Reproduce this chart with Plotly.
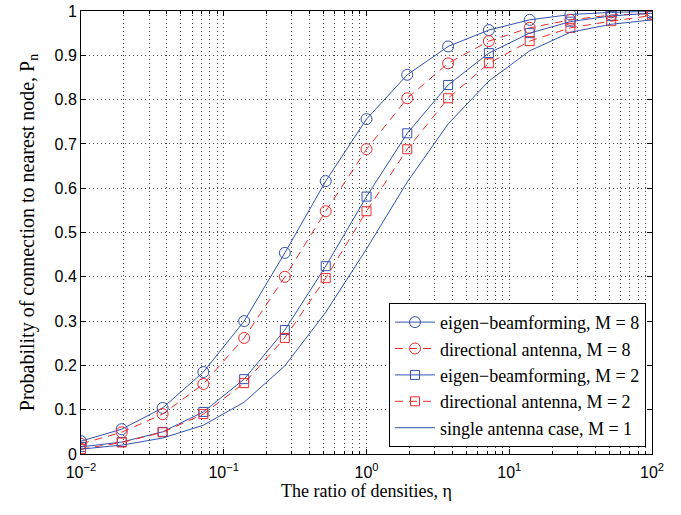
import plotly.graph_objects as go

eta = [0.01, 0.0193, 0.0373, 0.072, 0.139, 0.268, 0.518, 1.0, 1.93, 3.73, 7.2, 13.9, 26.8, 51.8, 100.0]

eigen_m8 = [0.029, 0.056, 0.104, 0.185, 0.300, 0.454, 0.616, 0.756, 0.856, 0.920, 0.957, 0.980, 0.992, 0.997, 0.999]
dir_m8 = [0.023, 0.049, 0.090, 0.158, 0.262, 0.400, 0.548, 0.688, 0.803, 0.882, 0.932, 0.962, 0.980, 0.991, 0.994]
eigen_m2 = [0.016, 0.027, 0.050, 0.095, 0.169, 0.280, 0.424, 0.581, 0.724, 0.833, 0.905, 0.950, 0.976, 0.989, 0.995]
dir_m2 = [0.011, 0.026, 0.049, 0.090, 0.160, 0.262, 0.397, 0.548, 0.688, 0.803, 0.882, 0.932, 0.962, 0.977, 0.990]
single_m1 = [0.011, 0.020, 0.036, 0.065, 0.117, 0.199, 0.320, 0.463, 0.614, 0.745, 0.842, 0.910, 0.952, 0.970, 0.980]

names = ["eigen\u2212beamforming, M = 8", "directional antenna, M = 8",
         "eigen\u2212beamforming, M = 2", "directional antenna, M = 2",
         "single antenna case, M = 1"]

xtick_vals = [0.01, 0.1, 1, 10, 100]
xtick_text = ["10<sup>\u22122</sup>", "10<sup>\u22121</sup>", "10<sup>0</sup>", "10<sup>1</sup>", "10<sup>2</sup>"]
xminor_vals = [m * d for d in (0.01, 0.1, 1, 10) for m in (2, 3, 4, 5, 6, 7, 8, 9)]
ytick_vals = [0, 0.1, 0.2, 0.3, 0.4, 0.5, 0.6, 0.7, 0.8, 0.9, 1.0]
ytick_text = ["0", "0.1", "0.2", "0.3", "0.4", "0.5", "0.6", "0.7", "0.8", "0.9", "1"]

BLUE = "#3452b0"
RED = "#f22a2a"

fig = go.Figure()
fig.add_trace(go.Scatter(x=eta, y=eigen_m8, name=names[0], mode="lines+markers",
                         line=dict(color=BLUE, width=1),
                         marker=dict(symbol="circle-open", size=11, color=BLUE, line=dict(width=1))))
fig.add_trace(go.Scatter(x=eta, y=dir_m8, name=names[1], mode="lines+markers",
                         line=dict(color=RED, width=1, dash="8px,6px"),
                         marker=dict(symbol="circle-open", size=11, color=RED, line=dict(width=1))))
fig.add_trace(go.Scatter(x=eta, y=eigen_m2, name=names[2], mode="lines+markers",
                         line=dict(color=BLUE, width=1),
                         marker=dict(symbol="square-open", size=9, color=BLUE, line=dict(width=1))))
fig.add_trace(go.Scatter(x=eta, y=dir_m2, name=names[3], mode="lines+markers",
                         line=dict(color=RED, width=1, dash="8px,6px"),
                         marker=dict(symbol="square-open", size=9, color=RED, line=dict(width=1))))
fig.add_trace(go.Scatter(x=eta, y=single_m1, name=names[4], mode="lines",
                         line=dict(color=BLUE, width=1)))

GRID = dict(gridcolor="#444", griddash="1px,3px", gridwidth=1)

fig.update_xaxes(type="log", range=[-2, 2], tickmode="array", tickvals=xtick_vals, ticktext=xtick_text,
                 ticks="inside", ticklen=5, tickcolor="black", mirror="ticks",
                 showline=True, linecolor="black", linewidth=1, automargin=False,
                 showgrid=True, **GRID, ticklabelstandoff=4,
                 minor=dict(tickmode="array", tickvals=xminor_vals, ticks="inside", ticklen=3,
                            tickcolor="black", showgrid=True, **GRID),
                 tickfont=dict(family="Liberation Sans, Arial", size=16, color="black"),
                 title=dict(text="The ratio of densities, \u03b7",
                            font=dict(family="Liberation Serif, Times New Roman", size=18, color="black"),
                            standoff=3),
                 zeroline=False)
fig.update_yaxes(range=[0, 1], tickmode="array", tickvals=ytick_vals, ticktext=ytick_text,
                 ticks="inside", ticklen=5, tickcolor="black", mirror="ticks",
                 showline=True, linecolor="black", linewidth=1, automargin=False,
                 showgrid=True, **GRID,
                 tickfont=dict(family="Liberation Sans, Arial", size=16, color="black"),
                 title=dict(text="Probability of connection to nearest node, P<sub>n</sub>",
                            font=dict(family="Liberation Serif, Times New Roman", size=20, color="black"),
                            standoff=14),
                 zeroline=False)

fig.update_layout(
    width=681, height=515,
    margin=dict(l=81, r=29, t=11, b=61),
    paper_bgcolor="white", plot_bgcolor="white",
    legend=dict(x=0.9895, y=0.016, xanchor="right", yanchor="bottom",
                bgcolor="white", bordercolor="black", borderwidth=1,
                font=dict(family="Liberation Serif, Times New Roman", size=18, color="black"),
                tracegroupgap=0, itemwidth=40),
    showlegend=True,
)

fig.write_html("out.html", config={"displayModeBar": False},
               post_script="document.body.style.margin='0px';")
